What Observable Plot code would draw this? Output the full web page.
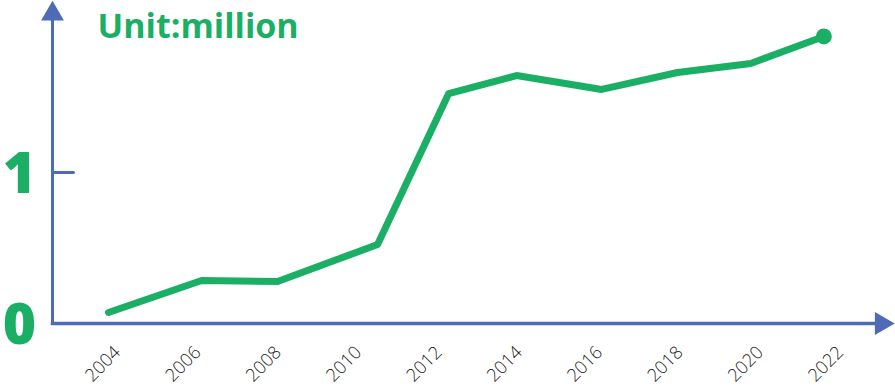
<!DOCTYPE html>
<html>
<head>
<meta charset="utf-8">
<script src="https://cdn.jsdelivr.net/npm/d3@7"></script>
<script src="https://cdn.jsdelivr.net/npm/@observablehq/plot@0.6"></script>
<style>
  html, body { margin: 0; padding: 0; background: #fff; }
  #chart svg { display: block; }
</style>
</head>
<body>
<div id="chart"></div>
<script>
// Data
const years = [2003.80, 2006.12, 2008.01, 2010.50, 2012.27, 2013.96, 2016.08, 2017.97, 2019.79, 2021.61];
const values = [0.073, 0.285, 0.278, 0.523, 1.523, 1.642, 1.550, 1.662, 1.722, 1.901];
const tickYears = [2004, 2006, 2008, 2010, 2012, 2014, 2016, 2018, 2020, 2022];
const yTicks = [0, 1];
const yTickLabels = ["0", "1"];
const unitLabel = "Unit:million";

const green = "#1aaf64";
const blue = "#4f6bb6";

const data = years.map((year, i) => ({year, value: values[i]}));
const last = [data[data.length - 1]];

const chart = Plot.plot({
  width: 895,
  height: 391,
  marginLeft: 52,
  marginRight: 15,
  marginTop: 20,
  marginBottom: 68,
  style: {background: "#fff", overflow: "visible"},
  x: {type: "linear", domain: [2004, 2022], range: [116, 839], axis: null, label: null},
  y: {domain: [0, 1], range: [323, 172], axis: null, label: null},
  marks: [
    Plot.frame({anchor: "left", stroke: blue, strokeWidth: 3}),
    Plot.frame({anchor: "bottom", stroke: blue, strokeWidth: 3.5}),
    Plot.dot([0], {frameAnchor: "top-left", symbol: "triangle", r: 8.5, fill: blue, stroke: null, dy: -6.6}),
    Plot.dot([0], {frameAnchor: "bottom-right", symbol: "triangle", r: 8.5, fill: blue, stroke: null, rotate: 90, dx: 1}),
    Plot.vector([1], {
      y: d => d, frameAnchor: "left", length: 21, rotate: 90, anchor: "start",
      stroke: blue, strokeWidth: 3,
      shape: {draw(context, l) { context.moveTo(0, 0); context.lineTo(0, -l); }}
    }),
    Plot.text(yTicks, {
      y: d => d, text: (d, i) => yTickLabels[i], frameAnchor: "left", dx: -33, dy: 2,
      textAnchor: "middle", fill: green, fontSize: 57, fontWeight: 800,
      fontFamily: "Open Sans", lineAnchor: "middle"
    }),
    Plot.axisX({
      ticks: tickYears, tickSize: 0, tickPadding: 26, tickRotate: -45, dx: 1,
      tickFormat: d => String(d), fontSize: 18, fontWeight: 300,
      fontFamily: "Open Sans", fill: "#222", label: null
    }),
    Plot.text([unitLabel], {
      frameAnchor: "top-left", dx: 45, dy: 17, lineAnchor: "bottom",
      textAnchor: "start", fill: green, fontSize: 34, fontWeight: 700,
      fontFamily: "Open Sans", letterSpacing: -0.5
    }),
    Plot.line(data, {x: "year", y: "value", stroke: green, strokeWidth: 7,
      strokeLinecap: "round", strokeLinejoin: "round"}),
    Plot.dot(last, {x: "year", y: "value", r: 8, fill: green, stroke: null})
  ]
});
document.getElementById("chart").appendChild(chart);
</script>
</body>
</html>
